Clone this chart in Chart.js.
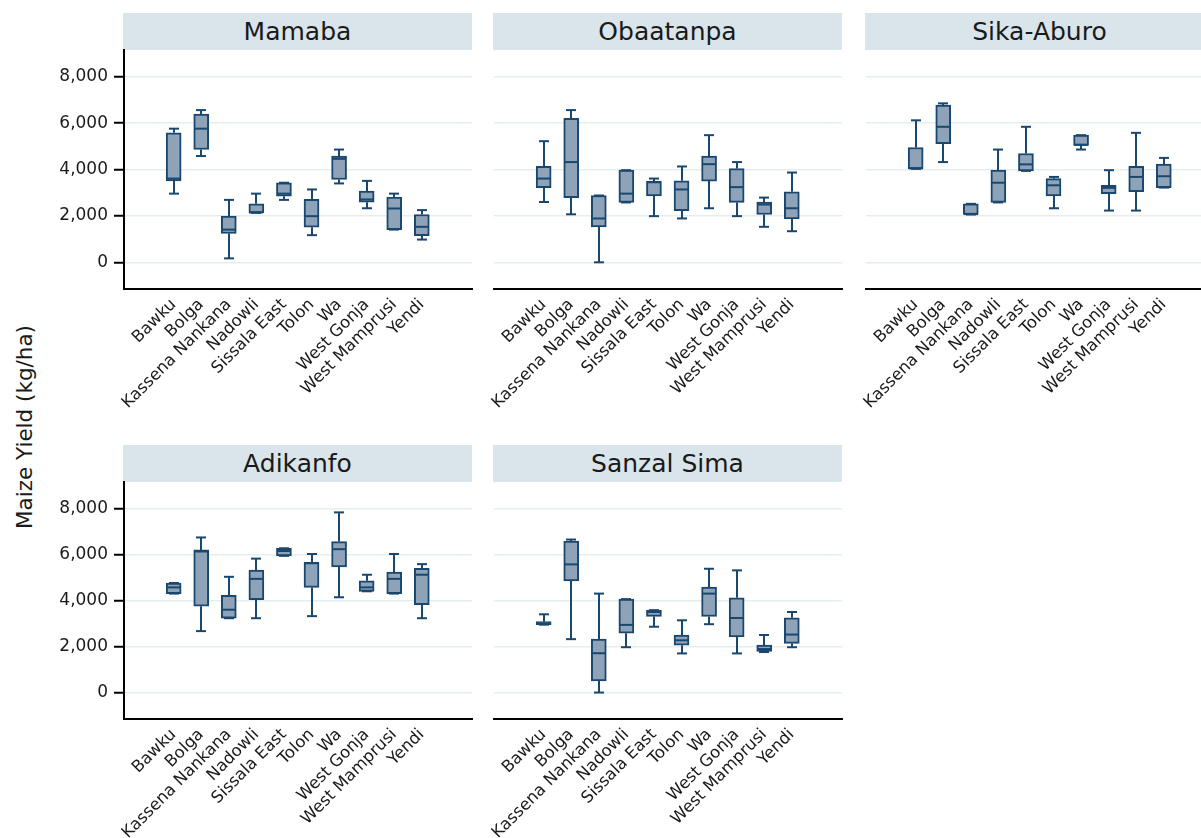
<!DOCTYPE html>
<html>
<head>
<meta charset="utf-8">
<title>Maize Yield by District and Variety</title>
<script src="https://cdn.jsdelivr.net/npm/chart.js@4.4.1/dist/chart.umd.min.js"></script>
<style>
  html, body { margin: 0; padding: 0; background: #fff; }
  body { width: 1201px; height: 838px; overflow: hidden; position: relative; font-family: "DejaVu Sans", sans-serif; }
  canvas { position: absolute; }
  .strip {
    position: absolute; background: #d9e5eb; color: #1a1a1a;
    font: 25px "DejaVu Sans", sans-serif; text-align: center;
    display: flex; align-items: center; justify-content: center;
  }
  #ytitle {
    position: absolute; left: 24px; top: 427px; white-space: nowrap;
    font: 21.5px "DejaVu Sans", sans-serif; color: #1a1a1a;
    transform: translate(-50%, -50%) rotate(-90deg);
  }
</style>
</head>
<body>
<div id="ytitle">Maize Yield (kg/ha)</div>
<script>
// District categories along each panel's x axis
const districts = ['Bawku', 'Bolga', 'Kassena Nankana', 'Nadowli', 'Sissala East',
                   'Tolon', 'Wa', 'West Gonja', 'West Mamprusi', 'Yendi'];
const yTicks = [0, 2000, 4000, 6000, 8000];

// Box statistics per district: [lower adjacent, q1, median, q3, upper adjacent] (kg/ha)
const mamaba = [
  [2960, 3510, 3610, 5580, 5760],
  [4580, 4860, 5760, 6390, 6560],
  [170, 1240, 1410, 1990, 2690],
  [2130, 2130, 2150, 2520, 2960],
  [2690, 2850, 2960, 3430, 3430],
  [1170, 1510, 1990, 2710, 3140],
  [3400, 3570, 4460, 4580, 4860],
  [2330, 2590, 2710, 3070, 3510],
  [1410, 1410, 2320, 2810, 2960],
  [980, 1150, 1530, 2060, 2250]
];
const obaatanpa = [
  [2600, 3220, 3610, 4140, 5220],
  [2070, 2790, 4320, 6200, 6560],
  [0, 1530, 1890, 2880, 2880],
  [2580, 2580, 2960, 3970, 3970],
  [1990, 2860, 3450, 3500, 3610],
  [1890, 2230, 3140, 3510, 4130],
  [2330, 3500, 4230, 4580, 5480],
  [1990, 2580, 3240, 4040, 4320],
  [1530, 2060, 2490, 2600, 2790],
  [1340, 1870, 2330, 3040, 3870]
];
const sikaAburo = [
  [4030, 4030, 4050, 4950, 6120],
  [4320, 5110, 5840, 6780, 6850],
  [2060, 2060, 2080, 2520, 2520],
  [2580, 2580, 3430, 3970, 4860],
  [3940, 3940, 4220, 4690, 5840],
  [2330, 2860, 3320, 3610, 3680],
  [4860, 5040, 5060, 5480, 5480],
  [2230, 2960, 3210, 3320, 3970],
  [2230, 3040, 3680, 4140, 5580],
  [3220, 3220, 3710, 4230, 4500]
];
const adikanfo = [
  [4300, 4300, 4570, 4760, 4760],
  [2670, 3750, 6130, 6200, 6740],
  [3230, 3230, 3600, 4220, 5030],
  [3230, 4040, 4940, 5320, 5820],
  [5940, 5940, 6150, 6270, 6270],
  [3320, 4570, 5620, 5660, 6020],
  [4140, 5460, 6230, 6560, 7830],
  [4400, 4400, 4570, 4860, 5120],
  [4300, 4300, 4940, 5230, 6020],
  [3230, 3820, 5120, 5400, 5580]
];
const sanzalSima = [
  [2950, 2950, 3010, 3080, 3400],
  [2320, 4850, 5570, 6580, 6650],
  [0, 500, 1710, 2320, 4300],
  [1970, 2580, 2940, 4060, 4060],
  [2860, 3310, 3500, 3580, 3580],
  [1700, 2060, 2270, 2500, 3140],
  [2970, 3310, 4300, 4580, 5380],
  [1700, 2420, 3240, 4120, 5310],
  [1760, 1790, 1890, 2060, 2500],
  [1970, 2140, 2520, 3250, 3500]
];

const NAVY = '#1a476f';
const FILL = '#8ea3b8';
const GRID = '#e4edf0';
const Y_AXIS_W = 124;   // room reserved for the y axis in every canvas
const PAD_TOP = 20;
const PAD_RIGHT = 20;
const X_AXIS_H = 150;   // room for the rotated district labels
const PLOT_W = 348;

const panels = [
  { title: 'Mamaba',     stats: mamaba,     left: 124, top: 50,  h: 239, yLabels: true },
  { title: 'Obaatanpa',  stats: obaatanpa,  left: 494, top: 50,  h: 239, yLabels: false },
  { title: 'Sika-Aburo', stats: sikaAburo,  left: 866, top: 50,  h: 239, yLabels: false },
  { title: 'Adikanfo',   stats: adikanfo,   left: 124, top: 482, h: 237, yLabels: true },
  { title: 'Sanzal Sima',stats: sanzalSima, left: 494, top: 482, h: 237, yLabels: false }
];

// Whiskers, caps and median lines drawn over the floating-bar boxes
const boxWhiskers = {
  id: 'boxWhiskers',
  afterDatasetsDraw(chart, args, opts) {
    const { ctx } = chart;
    const xs = chart.scales.x, ys = chart.scales.y;
    ctx.save();
    ctx.strokeStyle = NAVY;
    ctx.lineWidth = 2;
    const seg = (x1, y1, x2, y2) => { ctx.beginPath(); ctx.moveTo(x1, y1); ctx.lineTo(x2, y2); ctx.stroke(); };
    opts.stats.forEach((s, i) => {
      const px = Math.round(xs.getPixelForValue(i));
      const [lo, q1, med, q3, hi] = s.map(v => ys.getPixelForValue(v));
      if (hi < q3) seg(px, q3, px, hi);
      if (lo > q1) seg(px, q1, px, lo);
      seg(px - 5, hi, px + 5, hi);
      seg(px - 5, lo, px + 5, lo);
      seg(px - 7, med, px + 7, med);
    });
    ctx.restore();
  }
};

panels.forEach(p => {
  const strip = document.createElement('div');
  strip.className = 'strip';
  strip.textContent = p.title;
  Object.assign(strip.style, {
    left: (p.left - 1) + 'px', top: (p.top - 37) + 'px',
    width: (PLOT_W + 1) + 'px', height: '37px'
  });
  document.body.appendChild(strip);

  const canvas = document.createElement('canvas');
  const W = Y_AXIS_W + PLOT_W + PAD_RIGHT;
  const H = PAD_TOP + p.h + X_AXIS_H;
  canvas.width = W; canvas.height = H;
  canvas.style.left = (p.left - Y_AXIS_W) + 'px';
  canvas.style.top = (p.top - PAD_TOP) + 'px';
  document.body.appendChild(canvas);

  new Chart(canvas, {
    type: 'bar',
    data: {
      datasets: [{
        data: p.stats.map((s, i) => ({ x: i, y: [s[1], s[3]] })),
        backgroundColor: FILL,
        borderColor: NAVY,
        borderWidth: 2,
        borderSkipped: false,
        barThickness: 15
      }]
    },
    options: {
      responsive: false,
      animation: false,
      events: [],
      layout: { padding: { top: PAD_TOP, right: PAD_RIGHT, left: 0, bottom: 0 } },
      plugins: {
        legend: { display: false },
        tooltip: { enabled: false },
        boxWhiskers: { stats: p.stats }
      },
      scales: {
        x: {
          type: 'linear',
          min: -1.17,
          max: 10.19,
          afterBuildTicks: sc => { sc.ticks = districts.map((_, i) => ({ value: i })); },
          afterFit: sc => { sc.height = X_AXIS_H; },
          grid: { display: false, drawTicks: false },
          border: { display: true, color: '#000', width: 2 },
          ticks: {
            autoSkip: false,
            minRotation: 45,
            maxRotation: 45,
            padding: 6,
            color: '#1a1a1a',
            font: { family: 'DejaVu Sans', size: 16.5 },
            callback: v => districts[v] ?? ''
          }
        },
        y: {
          min: -1150,
          max: 9150,
          afterBuildTicks: sc => { sc.ticks = yTicks.map(v => ({ value: v })); },
          afterFit: sc => { sc.width = Y_AXIS_W; },
          grid: {
            color: GRID,
            lineWidth: 1.5,
            drawTicks: p.yLabels,
            tickLength: 10,
            tickColor: '#000',
            tickWidth: 2
          },
          border: { display: p.yLabels, color: '#000', width: 2 },
          ticks: {
            display: p.yLabels,
            padding: 6,
            color: '#1a1a1a',
            font: { family: 'DejaVu Sans', size: 17 },
            callback: v => v.toLocaleString('en-US')
          }
        }
      }
    },
    plugins: [boxWhiskers]
  });
});
</script>
</body>
</html>
